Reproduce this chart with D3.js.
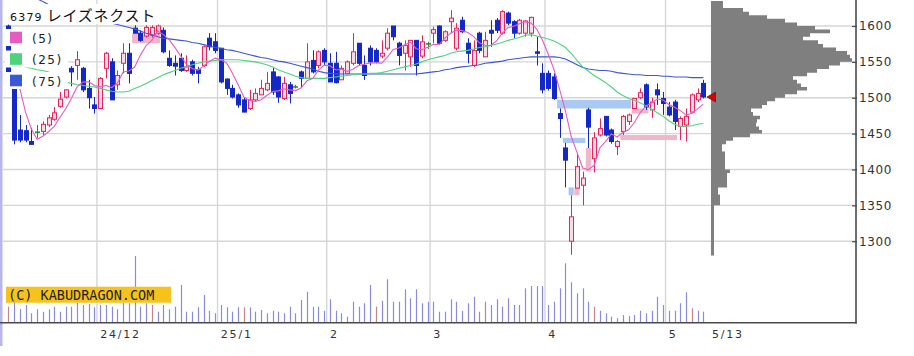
<!DOCTYPE html>
<html><head><meta charset="utf-8">
<script src="https://cdn.jsdelivr.net/npm/d3@7"></script>
<style>html,body{margin:0;padding:0;background:#fff;}svg{display:block;}</style>
</head><body>
<svg id="c" width="914" height="356"></svg>
<script>
// ---------- DATA ----------
const title = "6379 レイズネクスト";
const dates = [
"2024-11-08","2024-11-11","2024-11-12","2024-11-13","2024-11-14","2024-11-15","2024-11-18","2024-11-19","2024-11-20","2024-11-21","2024-11-22","2024-11-25","2024-11-26","2024-11-27","2024-11-28","2024-11-29",
"2024-12-02","2024-12-03","2024-12-04","2024-12-05","2024-12-06","2024-12-09","2024-12-10","2024-12-11","2024-12-12","2024-12-13","2024-12-16","2024-12-17","2024-12-18","2024-12-19","2024-12-20","2024-12-23","2024-12-24","2024-12-25","2024-12-26","2024-12-27","2024-12-30",
"2025-01-06","2025-01-07","2025-01-08","2025-01-09","2025-01-10","2025-01-14","2025-01-15","2025-01-16","2025-01-17","2025-01-20","2025-01-21","2025-01-22","2025-01-23","2025-01-24","2025-01-27","2025-01-28","2025-01-29","2025-01-30","2025-01-31",
"2025-02-03","2025-02-04","2025-02-05","2025-02-06","2025-02-07","2025-02-10","2025-02-12","2025-02-13","2025-02-14","2025-02-17","2025-02-18","2025-02-19","2025-02-20","2025-02-21","2025-02-25","2025-02-26","2025-02-27","2025-02-28",
"2025-03-03","2025-03-04","2025-03-05","2025-03-06","2025-03-07","2025-03-10","2025-03-11","2025-03-12","2025-03-13","2025-03-14","2025-03-17","2025-03-18","2025-03-19","2025-03-21","2025-03-24","2025-03-25","2025-03-26","2025-03-27","2025-03-28","2025-03-31",
"2025-04-01","2025-04-02","2025-04-03","2025-04-04","2025-04-07","2025-04-08","2025-04-09","2025-04-10","2025-04-11","2025-04-14","2025-04-15","2025-04-16","2025-04-17","2025-04-18","2025-04-21","2025-04-22","2025-04-23","2025-04-24","2025-04-25","2025-04-28","2025-04-30",
"2025-05-01","2025-05-02","2025-05-07","2025-05-08","2025-05-09","2025-05-12","2025-05-13"];

const opens = [1600,1512,1455,1454,1439,1452,1453,1462,1470,1488,1501,1541,1545,1541,1513,1490,1485,1541,1550,1518,1548,1562,1597,1590,1586,1587,1590,1594,1555,1548,1555,1538,1550,1539,1545,1583,1578,1569,1526,1513,1504,1497,1485,1497,1504,1511,1536,1529,1499,1518,1515,1536,1527,1552,1545,1566,1548,1548,1525,1534,1548,1576,1545,1569,1566,1558,1569,1600,1576,1562,1557,1580,1558,1575,1590,1600,1580,1606,1569,1608,1576,1545,1590,1557,1594,1608,1590,1618,1606,1590,1590,1590,1564,1534,1534,1529,1478,1430,1300,1374,1378,1483,1415,1448,1474,1455,1432,1453,1467,1485,1500,1518,1483,1511,1499,1487,1494,1460,1462,1480,1497,1520];
const highs = [1602,1516,1476,1462,1458,1462,1467,1476,1487,1508,1516,1544,1565,1543,1525,1501,1529,1564,1555,1538,1576,1576,1601,1594,1601,1601,1602,1598,1566,1559,1562,1559,1553,1543,1573,1590,1590,1569,1527,1518,1506,1500,1511,1513,1525,1536,1543,1530,1529,1522,1518,1538,1576,1566,1566,1569,1562,1564,1545,1552,1590,1576,1559,1573,1569,1580,1597,1600,1578,1580,1580,1580,1587,1578,1599,1601,1594,1622,1604,1613,1583,1580,1592,1592,1608,1611,1622,1620,1608,1610,1608,1613,1585,1548,1538,1534,1485,1437,1364,1423,1397,1486,1452,1471,1474,1457,1441,1476,1478,1499,1513,1520,1500,1520,1508,1494,1497,1474,1485,1506,1513,1525];
const lows = [1520,1435,1438,1438,1435,1444,1448,1459,1468,1486,1499,1516,1525,1508,1485,1478,1485,1527,1497,1511,1534,1520,1590,1578,1584,1584,1588,1562,1543,1531,1536,1536,1531,1520,1543,1566,1562,1520,1504,1499,1486,1480,1483,1495,1504,1509,1504,1493,1497,1492,1513,1515,1527,1534,1541,1545,1522,1520,1525,1534,1545,1545,1525,1545,1548,1555,1566,1580,1545,1538,1543,1531,1555,1568,1576,1575,1578,1590,1566,1590,1548,1543,1562,1557,1571,1590,1588,1601,1583,1588,1585,1585,1545,1506,1510,1497,1444,1375,1281,1374,1350,1430,1396,1446,1446,1436,1420,1448,1462,1485,1498,1483,1472,1490,1476,1474,1455,1441,1439,1478,1494,1499];
const closes = [1525,1441,1441,1441,1435,1452,1463,1472,1479,1498,1511,1536,1553,1511,1500,1485,1527,1562,1497,1531,1562,1534,1590,1580,1598,1598,1600,1564,1545,1544,1538,1543,1534,1534,1571,1571,1566,1522,1513,1501,1490,1480,1497,1506,1513,1520,1508,1501,1520,1506,1515,1527,1550,1536,1564,1550,1522,1521,1541,1550,1564,1548,1531,1550,1550,1562,1590,1585,1559,1573,1580,1545,1578,1575,1595,1576,1592,1611,1597,1592,1562,1566,1566,1580,1590,1594,1620,1604,1590,1608,1607,1612,1562,1511,1513,1499,1471,1413,1334,1404,1388,1459,1444,1457,1448,1439,1439,1474,1476,1499,1507,1487,1494,1504,1492,1476,1467,1471,1474,1504,1506,1501];

// volume (relative units)
const volumes = [16,21,13.7,17.7,9.4,13.4,11,13.4,16,11,16,16,20,17.7,18.7,15.4,17.7,17.7,16,13.4,20,19.4,66.7,16,19.4,17.7,11,17.7,13.4,16,37.7,11,11,15.4,27.7,12,9.4,17.7,15.4,11,15.4,15.4,15.4,11,12.7,9.4,12,11,9.4,16,9.4,22.7,31,16,16,12,23.4,12,9.4,6,21,16,19.4,37.7,16,22,43.4,21,21,33.4,24.4,33.4,19.4,21,21,11,11,23.4,21,12,19.4,26,11,21,17.7,23.4,16,24.4,17.7,17.7,34.4,36.7,36.7,36.7,17.7,21,34.4,59.4,40.4,29.4,34.4,21,16,12,9.4,6,4.4,7.7,6.7,7.7,12,9.4,12,26,17.7,12,12,19.4,30.4,14.4,12,11];
const volRedIdx = [0,25,41,64,83,102,119];

// moving averages (25 & 75 day); 5-day derived from closes
const ma25 = [1552,1549,1546,1543,1541,1539,1538,1536,1532,1527,1522,1520,1518,1517,1516,1515,1513,1511,1509,1508,1508,1509,1513,1516,1520,1524,1528,1532,1535,1538,1541,1543,1546,1548,1550,1551,1552,1553,1553,1553,1553,1552,1551,1550,1548,1546,1543,1539,1536,1533,1530,1528,1527,1527,1527,1527,1528,1529,1530,1531,1532,1533,1533,1534,1534,1535,1537,1539,1541,1543,1545,1547,1550,1553,1555,1557,1559,1562,1564,1565,1566,1568,1570,1571,1573,1575,1577,1580,1582,1584,1587,1588,1586,1584,1582,1579,1575,1570,1562,1552,1543,1537,1531,1526,1521,1515,1508,1503,1499,1496,1493,1489,1484,1479,1474,1468,1463,1460,1460,1461,1463,1464];
const ma75 = [1660,1656,1651,1647,1643,1638,1634,1630,1627,1625,1622,1620,1617,1615,1613,1610,1608,1606,1604,1602,1600,1598,1596,1593,1590,1588,1585,1583,1582,1581,1580,1579,1577,1576,1574,1572,1570,1569,1567,1566,1564,1562,1560,1558,1556,1555,1553,1551,1550,1548,1546,1544,1542,1540,1537,1535,1534,1533,1533,1533,1533,1533,1533,1533,1533,1533,1533,1533,1533,1533,1533,1533,1534,1535,1536,1537,1539,1540,1542,1543,1544,1545,1546,1548,1549,1550,1551,1553,1554,1555,1556,1557,1557,1557,1557,1557,1556,1554,1550,1546,1542,1540,1539,1538,1538,1537,1535,1534,1533,1532,1532,1531,1531,1531,1530,1530,1529,1529,1529,1528,1528,1528];
const ma5Head = [null,null,1513,1480];

// price gaps (windows): start index, end index, low, high, type
const gapStart = [22,96,97,98,99,101,107,109];
const gapEnd   = [26,108,100,98,99,101,116,111];
const gapLow   = [1576,1485,1437,1364,1364,1397,1441,1478];
const gapHigh  = [1590,1497,1444,1375,1374,1430,1448,1485];
const gapUp    = [true,false,false,false,true,true,true,true];

// price-by-volume profile (bin bottom price, 5-yen bins; relative volume)
const profPrice = d3.range(1280,1635,5);
const profVol = [3,3,3,3,3,3,3,3,3,3,3,3,3,3,9,9,9,7,7,16,16,16,16,19,14,14,14,14,14,11,11,15,22,39,51,48,45,46,49,42,40,51,56,64,74,86,96,90,86,82,96,106,118,129,141,139,136,125,112,107,92,99,119,104,86,74,56,38,32,12,12];

const yTicks = [1300,1350,1400,1450,1500,1550,1600];
const monthLabels = ["24/12","25/1","2","3","4","5"];
const lastLabel = "5/13";
const legendNames = ["(5)","(25)","(75)"];
const copyright = "(C) KABUDRAGON.COM";

// ---------- CHART ----------
const svg = d3.select("#c");
const n = dates.length;
const x = d3.scaleLinear().domain([0, n-1]).range([8.3, 703.3]);
const y = d3.scaleLinear().domain([1300,1600]).range([241.2, 26.0]);
const yv = d3.scaleLinear().domain([0,100]).range([322.7, 222.7]);
const pw = d3.scaleLinear().domain([0,100]).range([711, 811]);

const C = {red:"#e8245c", redFill:"#fbdbe6", blue:"#1428c8", doji:"#2a8a2a",
  ma5:"#e65cc4", ma25:"#4ed27e", ma75:"#3a58d6", grid:"#d6d6d6", axis:"#4a4a4a",
  vol:"#8a8ae0", volRed:"#c88484", gapUp:"#f2b6ca", gapDn:"#a9c9f2", prof:"#7f7f7f"};

svg.append("defs").append("clipPath").attr("id","pc")
  .append("rect").attr("x",3).attr("y",0).attr("width",706).attr("height",323);

// left lavender strip
svg.append("rect").attr("x",0).attr("y",0).attr("width",2.5).attr("height",346).attr("fill","#b7b7ee");

// month starts
const monthStart = [];
for (let i=1;i<n;i++) if (dates[i].slice(5,7)!==dates[i-1].slice(5,7)) monthStart.push(i);

// grid
svg.append("g").selectAll("line").data(yTicks).join("line")
  .attr("x1",3).attr("x2",856).attr("y1",d=>y(d)).attr("y2",d=>y(d))
  .attr("stroke",C.grid).attr("stroke-width",1.4);
svg.append("g").selectAll("line").data(monthStart).join("line")
  .attr("x1",d=>x(d-0.57)).attr("x2",d=>x(d-0.57)).attr("y1",0).attr("y2",322)
  .attr("stroke",C.grid).attr("stroke-width",1.4);

// profile as one stepped shape
let pp = `M${pw(0)},${y(profPrice[0])}`;
profPrice.forEach((p,i)=>{ pp += ` L${pw(profVol[i])},${y(p)} L${pw(profVol[i])},${y(p+5)}`; });
pp += ` L${pw(0)},${y(profPrice[profPrice.length-1]+5)} Z`;
svg.append("path").attr("d",pp).attr("fill",C.prof);

const plot = svg.append("g").attr("clip-path","url(#pc)");

// gaps
plot.append("g").selectAll("rect").data(gapStart).join("rect")
  .attr("x",(d,k)=>x(gapStart[k])-2.6)
  .attr("width",(d,k)=>x(gapEnd[k])-x(gapStart[k])+5.2)
  .attr("y",(d,k)=>y(gapHigh[k])).attr("height",(d,k)=>y(gapLow[k])-y(gapHigh[k]))
  .attr("fill",(d,k)=>gapUp[k]?C.gapUp:C.gapDn);

// volume
svg.append("g").selectAll("line").data(volumes).join("line")
  .attr("x1",(d,i)=>Math.round(x(i))+0.5).attr("x2",(d,i)=>Math.round(x(i))+0.5)
  .attr("y1",yv(0)).attr("y2",d=>yv(d))
  .attr("stroke",(d,i)=>volRedIdx.includes(i)?C.volRed:C.vol).attr("stroke-width",1.2);

// candles
const cd = dates.map((d,i)=>({i,o:opens[i],h:highs[i],l:lows[i],c:closes[i]}));
const col = d => d.c>d.o?C.red:(d.c<d.o?C.blue:C.doji);
const cg = plot.append("g");
cg.selectAll("line.w").data(cd).join("line").attr("class","w")
  .attr("x1",d=>Math.round(x(d.i))+0.5).attr("x2",d=>Math.round(x(d.i))+0.5)
  .attr("y1",d=>y(d.h)).attr("y2",d=>y(d.l)).attr("stroke",col).attr("stroke-width",1);
cg.selectAll("rect.b").data(cd.filter(d=>d.c!==d.o)).join("rect").attr("class","b")
  .attr("x",d=>Math.round(x(d.i))-1.5).attr("width",4)
  .attr("y",d=>y(Math.max(d.o,d.c))).attr("height",d=>Math.max(1,Math.abs(y(d.o)-y(d.c))))
  .attr("fill",d=>d.c>d.o?C.redFill:C.blue).attr("stroke",col).attr("stroke-width",1);
cg.selectAll("line.dj").data(cd.filter(d=>d.c===d.o)).join("line").attr("class","dj")
  .attr("x1",d=>Math.round(x(d.i))-2).attr("x2",d=>Math.round(x(d.i))+3)
  .attr("y1",d=>y(d.o)).attr("y2",d=>y(d.o)).attr("stroke",C.doji).attr("stroke-width",1.5);

// moving averages
const ma5 = closes.map((c,i)=> i<4 ? ma5Head[i] : d3.mean(closes.slice(i-4,i+1)));
const line = d3.line().defined(d=>d!=null).x((d,i)=>x(i)).y(d=>y(d));
[[ma75,C.ma75],[ma25,C.ma25],[ma5,C.ma5]].forEach(([arr,c])=>{
  plot.append("path").datum(arr).attr("d",line).attr("fill","none").attr("stroke",c).attr("stroke-width",1.1);
});

// axes
svg.append("line").attr("x1",856).attr("x2",856).attr("y1",0).attr("y2",323.5).attr("stroke",C.axis).attr("stroke-width",1.6);
svg.append("line").attr("x1",0).attr("x2",856.8).attr("y1",322.8).attr("y2",322.8).attr("stroke",C.axis).attr("stroke-width",1.6);
const ax = svg.append("g").attr("transform","translate(852,0)")
  .call(d3.axisRight(y).tickValues(yTicks).tickSize(5).tickPadding(2).tickFormat(d3.format("d")));
ax.select(".domain").remove();
ax.selectAll(".tick line").attr("stroke",C.axis).attr("stroke-width",1.2);
ax.selectAll("text").attr("font-family","DejaVu Sans").attr("font-size",12).attr("fill","#333").attr("letter-spacing","0.6px");

svg.append("g").selectAll("text").data(monthStart).join("text")
  .attr("x",d=>x(d)).attr("y",337.5).text((d,k)=>monthLabels[k])
  .attr("font-family","DejaVu Sans").attr("font-size",11).attr("letter-spacing","1.8px").attr("fill","#333");
svg.append("text").attr("x",x(n-1)+8.7).attr("y",337.5).text(lastLabel)
  .attr("font-family","DejaVu Sans").attr("font-size",11).attr("letter-spacing","1.8px").attr("fill","#333");

// current price marker
const cy = y(closes[n-1]);
svg.append("path").attr("d",`M707,${cy} L715.5,${cy-4.8} L715.5,${cy+4.8} Z`).attr("fill","#e00000").attr("stroke","#701010").attr("stroke-width",0.8);

// title & legend
svg.append("rect").attr("x",5).attr("y",4).attr("width",156).attr("height",20).attr("fill","#fff");
const tt = svg.append("text").attr("x",10).attr("y",20.7).attr("fill","#111");
tt.append("tspan").text(title.split(" ")[0]).attr("font-family","DejaVu Sans").attr("font-size",11).attr("letter-spacing","1.2px");
tt.append("tspan").text(" "+title.split(" ")[1]).attr("font-family","Noto Sans CJK JP").attr("font-size",15).attr("letter-spacing","0.7px");

const lgColors = [C.ma5, C.ma25, C.ma75];
const lgY = [29,50.5,72];
lgY.forEach((yy,k)=>{
  svg.append("rect").attr("x",5).attr("y",yy).attr("width",63).attr("height",17).attr("fill","#fff");
  svg.append("rect").attr("x",10).attr("y",yy+2.7).attr("width",12).attr("height",11.6).attr("fill",lgColors[k]);
  svg.append("text").attr("x",32).attr("y",yy+13.5).text(legendNames[k])
    .attr("font-family","DejaVu Sans").attr("font-size",12).attr("letter-spacing","1.5px").attr("fill","#222");
});

// copyright
svg.append("rect").attr("x",6).attr("y",286.7).attr("width",165).attr("height",16).attr("fill","#f6c21c");
svg.append("text").attr("x",8).attr("y",299.5).text(copyright)
  .attr("font-family","DejaVu Sans Mono").attr("font-size",13.5).attr("fill","#222");
</script>
</body></html>
